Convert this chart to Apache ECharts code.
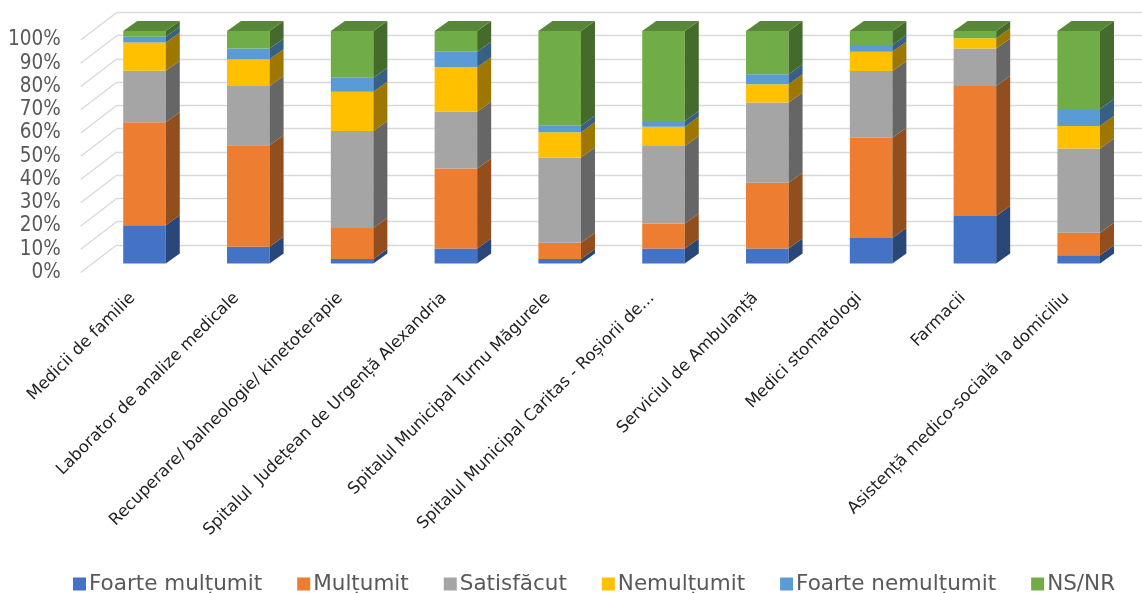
<!DOCTYPE html>
<html>
<head>
<meta charset="utf-8">
<script src="https://cdn.jsdelivr.net/npm/echarts@6/dist/echarts.min.js"></script>
<style>
html, body { margin: 0; padding: 0; background: #fff; }
#main { width: 1142px; height: 593px; }
</style>
</head>
<body>
<div id="main"></div>
<script>
// date (procente, 100% stacked)
const categories = [
    'Medicii de familie',
    'Laborator de analize medicale',
    'Recuperare/ balneologie/ kinetoterapie',
    'Spitalul  Județean de Urgență Alexandria',
    'Spitalul Municipal Turnu Măgurele',
    'Spitalul Municipal Caritas - Roșiorii de...',
    'Serviciul de Ambulanță',
    'Medici stomatologi',
    'Farmacii',
    'Asistență medico-socială la domiciliu'
];
const foarteMultumit   = [16.5, 7.2, 1.9, 6.5, 1.9, 6.5, 6.5, 11.0, 20.4, 3.6];
const multumit         = [44.2, 43.7, 13.4, 34.4, 7.0, 10.7, 28.2, 43.1, 55.9, 9.6];
const satisfacut       = [22.2, 25.4, 41.7, 24.4, 36.7, 33.3, 34.6, 28.7, 16.2, 36.3];
const nemultumit       = [12.2, 11.5, 16.9, 19.1, 10.8, 8.3, 7.8, 8.3, 4.4, 9.6];
const foarteNemultumit = [2.4, 4.7, 6.0, 6.7, 2.8, 2.5, 4.3, 2.9, 0, 7.3];
const nsNr             = [2.5, 7.5, 20.1, 8.9, 40.8, 38.7, 18.6, 6.0, 3.1, 33.6];
const seriesNames = ['Foarte mulțumit', 'Mulțumit', 'Satisfăcut', 'Nemulțumit', 'Foarte nemulțumit', 'NS/NR'];
const yTicks = [0, 10, 20, 30, 40, 50, 60, 70, 80, 90, 100];

const colors = ['#4472C4', '#ED7D31', '#A5A5A5', '#FFC000', '#5B9BD5', '#70AD47'];
const allSeries = [foarteMultumit, multumit, satisfacut, nemultumit, foarteNemultumit, nsNr];

// geometrie "3D": perete spate, fata barelor, marginea din fata a podelei
const PLOT_W = 1038, PLOT_H = 232.5;
const back  = { left: 117,   top: 12.3 };
const front = { left: 92.6,  top: 31 };
const floor = { left: 80.7,  top: 40 };
const DEPTH_X = 14, DEPTH_Y = -10;

function shade(hex, f) {
    const n = parseInt(hex.slice(1), 16);
    const r = Math.round(((n >> 16) & 255) * f);
    const g = Math.round(((n >> 8) & 255) * f);
    const b = Math.round((n & 255) * f);
    return 'rgb(' + r + ',' + g + ',' + b + ')';
}

const totals = categories.map((c, i) => allSeries.reduce((s, arr) => s + arr[i], 0));

function barSeries(k) {
    const color = colors[k];
    const data = categories.map((c, i) => {
        let base = 0;
        for (let j = 0; j < k; j++) base += allSeries[j][i] / totals[i] * 100;
        return [i, base, base + allSeries[k][i] / totals[i] * 100];
    });
    return {
        name: seriesNames[k],
        type: 'custom',
        xAxisIndex: 1,
        yAxisIndex: 1,
        itemStyle: { color: color },
        encode: { x: 0, y: [1, 2] },
        data: data,
        renderItem: function (params, api) {
            const i = api.value(0), lo = api.value(1), hi = api.value(2);
            if (hi - lo <= 0.001) return;
            const p0 = api.coord([i, lo]);
            const p1 = api.coord([i, hi]);
            const w = api.size([1, 0])[0] * 0.41;
            const xl = p0[0] - w / 2, xr = p0[0] + w / 2;
            const children = [
                { type: 'rect', shape: { x: xl, y: p1[1], width: w, height: p0[1] - p1[1] }, style: { fill: color } },
                { type: 'polygon', shape: { points: [[xr, p1[1]], [xr + DEPTH_X, p1[1] + DEPTH_Y], [xr + DEPTH_X, p0[1] + DEPTH_Y], [xr, p0[1]]] }, style: { fill: shade(color, 0.62) } }
            ];
            if (hi >= 99.999) {
                children.push({ type: 'polygon', shape: { points: [[xl, p1[1]], [xr, p1[1]], [xr + DEPTH_X, p1[1] + DEPTH_Y], [xl + DEPTH_X, p1[1] + DEPTH_Y]] }, style: { fill: shade(color, 0.78) } });
            }
            return { type: 'group', children: children };
        }
    };
}

const myChart = echarts.init(document.getElementById('main'));

const option = {
    animation: false,
    grid: [
        { left: back.left, top: back.top, width: PLOT_W, height: PLOT_H, outerBoundsMode: 'none' },
        { left: front.left, top: front.top, width: PLOT_W, height: PLOT_H, outerBoundsMode: 'none' },
        { left: floor.left, top: floor.top, width: PLOT_W, height: PLOT_H, outerBoundsMode: 'none' }
    ],
    xAxis: [
        { gridIndex: 0, type: 'value', min: 0, max: 1, show: false },
        { gridIndex: 1, type: 'category', data: categories, show: false },
        {
            gridIndex: 2,
            type: 'category',
            data: categories,
            axisLine: { show: false },
            axisTick: { show: false },
            axisLabel: {
                interval: 0,
                rotate: 45,
                margin: 23,
                color: '#1f1f1f',
                fontSize: 16.5,
                fontFamily: 'DejaVu Sans'
            }
        }
    ],
    yAxis: [
        {
            gridIndex: 0, type: 'value', min: 0, max: 100, interval: 10,
            axisLine: { show: false }, axisTick: { show: false }, axisLabel: { show: false },
            splitLine: { lineStyle: { color: '#d9d9d9', width: 1.4 } }
        },
        { gridIndex: 1, type: 'value', min: 0, max: 100, show: false },
        {
            gridIndex: 2, type: 'value', min: 0, max: 100, interval: 10,
            axisLine: { show: false }, axisTick: { show: false }, splitLine: { show: false },
            axisLabel: {
                formatter: '{value}%',
                margin: 20,
                padding: [6, 0, 0, 0],
                color: '#595959',
                fontSize: 20.5,
                fontFamily: 'DejaVu Sans Condensed'
            }
        }
    ],
    legend: {
        data: seriesNames,
        left: 68,
        top: 568,
        icon: 'rect',
        itemWidth: 13,
        itemHeight: 13,
        itemGap: 35,
        textStyle: { color: '#595959', fontSize: 21.5, fontFamily: 'DejaVu Sans', padding: [0, 0, 0, -2] }
    },
    series: [
        {
            // liniile peretelui lateral
            type: 'custom',
            xAxisIndex: 2,
            yAxisIndex: 2,
            silent: true,
            data: yTicks.map(v => [0, v]),
            renderItem: function (params, api) {
                const c = api.coord([0, api.value(1)]);
                const x0 = c[0] - api.size([1, 0])[0] / 2;
                return {
                    type: 'line',
                    shape: { x1: x0, y1: c[1], x2: x0 + (back.left - floor.left), y2: c[1] - (floor.top - back.top) },
                    style: { stroke: '#d9d9d9', lineWidth: 1.4 }
                };
            }
        }
    ].concat(seriesNames.map((n, k) => barSeries(k)))
};

myChart.setOption(option);
</script>
</body>
</html>
